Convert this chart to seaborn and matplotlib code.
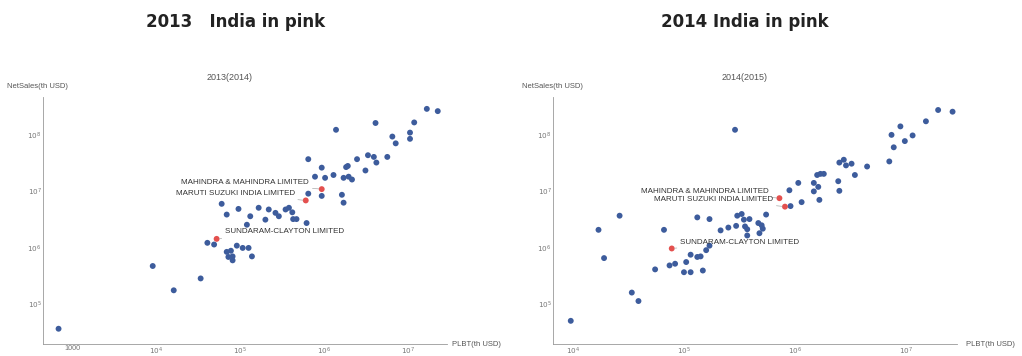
import numpy as np
import pandas as pd
import matplotlib
matplotlib.use("Agg")
import matplotlib.pyplot as plt
import matplotlib.ticker as mticker
import seaborn as sns

# values are log10 of th USD
plbt_2013 = [2.84, 3.96, 4.21, 4.53, 4.61, 4.69, 4.78, 4.84, 4.84, 4.86, 4.89, 4.91, 4.91, 4.96,
             4.98, 5.03, 5.10, 5.14, 5.08, 5.12, 5.22, 5.30, 5.34, 5.42, 5.46, 5.54, 5.58, 5.62,
             5.63, 5.67, 5.79, 5.81, 5.81, 5.97, 5.97, 5.89, 6.01, 6.11, 6.14, 6.21, 6.23, 6.23,
             6.26, 6.28, 6.29, 6.33, 6.39, 6.49, 6.52, 6.59, 6.62, 6.61, 6.75, 6.81, 6.85, 7.02,
             7.02, 7.07, 7.22, 7.35]
sales_2013 = [4.57, 5.68, 5.25, 5.46, 6.09, 6.06, 6.78, 6.59, 5.93, 5.84, 5.95, 5.78, 5.85, 6.04,
              6.69, 6.00, 6.00, 5.85, 6.41, 6.56, 6.71, 6.50, 6.68, 6.62, 6.56, 6.68, 6.71, 6.63,
              6.51, 6.51, 6.44, 6.96, 7.57, 6.92, 7.42, 7.26, 7.24, 7.29, 8.09, 6.94, 6.80, 7.24,
              7.43, 7.45, 7.26, 7.21, 7.57, 7.37, 7.64, 7.61, 7.51, 8.21, 7.61, 7.97, 7.85, 8.04,
              7.93, 8.22, 8.46, 8.42]

plbt_2014 = [3.98, 4.23, 4.28, 4.42, 4.53, 4.59, 4.74, 4.82, 4.87, 4.92, 5.00, 5.02, 5.06, 5.06,
             5.12, 5.15, 5.17, 5.20, 5.23, 5.12, 5.23, 5.46, 5.33, 5.40, 5.47, 5.48, 5.52, 5.54,
             5.55, 5.57, 5.59, 5.57, 5.67, 5.68, 5.70, 5.71, 5.74, 5.96, 5.95, 6.03, 6.06, 6.17,
             6.17, 6.21, 6.22, 6.20, 6.23, 6.26, 6.39, 6.40, 6.40, 6.44, 6.46, 6.51, 6.54, 6.65,
             6.85, 6.87, 6.89, 6.95, 6.99, 7.06, 7.18, 7.29, 7.42]
sales_2014 = [4.71, 6.32, 5.82, 6.57, 5.21, 5.06, 5.62, 6.32, 5.69, 5.72, 5.57, 5.75, 5.88, 5.57,
              5.84, 5.85, 5.60, 5.96, 6.04, 6.54, 6.51, 8.09, 6.31, 6.36, 6.39, 6.57, 6.60, 6.50,
              6.38, 6.22, 6.51, 6.33, 6.44, 6.26, 6.40, 6.34, 6.59, 6.74, 7.02, 7.15, 6.81, 7.15,
              7.00, 7.08, 6.85, 7.29, 7.31, 7.31, 7.18, 7.01, 7.51, 7.56, 7.46, 7.49, 7.29, 7.44,
              7.53, 8.00, 7.78, 8.15, 7.89, 7.99, 8.24, 8.44, 8.41]

india_names = ["MAHINDRA & MAHINDRA LIMITED", "MARUTI SUZUKI INDIA LIMITED", "SUNDARAM-CLAYTON LIMITED"]
india_plbt_2013 = [5.97, 5.78, 4.72]
india_sales_2013 = [7.04, 6.84, 6.16]
india_plbt_2014 = [5.86, 5.91, 4.89]
india_sales_2014 = [6.88, 6.73, 5.99]

BLUE = "#3d5c9c"
PINK = "#e4504e"
GREY = "#777777"


def make_df(px, sy, ipx, isy):
    a = pd.DataFrame({"PLBT": np.power(10.0, px), "NetSales": np.power(10.0, sy), "grp": "other"})
    b = pd.DataFrame({"PLBT": np.power(10.0, ipx), "NetSales": np.power(10.0, isy), "grp": "India",
                      "name": india_names})
    return pd.concat([a, b], ignore_index=True)


def fmt_x(v, pos):
    n = int(round(np.log10(v)))
    if n == 3:
        return "1000"
    return r"$10^{%d}$" % n


def fmt_y(v, pos):
    return r"$10^{%d}$" % int(round(np.log10(v)))


sns.set_style("white")
plt.rcParams["font.family"] = ["Liberation Sans", "DejaVu Sans"]
plt.rcParams["mathtext.fontset"] = "dejavusans"

fig = plt.figure(figsize=(10.22, 3.56), dpi=100)
W, H = 1022.0, 356.0

panels = [
    (43, make_df(plbt_2013, sales_2013, india_plbt_2013, india_sales_2013), (2.655, 7.46),
     [(-9, 4.5, "right"), (-8, 5, "right"), (6, 5, "left")]),
    (553, make_df(plbt_2014, sales_2014, india_plbt_2014, india_sales_2014), (3.82, 7.46),
     [(-8, 5, "right"), (-8.5, 5.5, "right"), (6, 4.5, "left")]),
]

for left, df, xl, offs in panels:
    ax = fig.add_axes([left / W, 1 - 344 / H, 404 / W, 247 / H])
    ax.set_xscale("log")
    ax.set_yscale("log")
    sns.scatterplot(data=df, x="PLBT", y="NetSales", hue="grp", palette={"other": BLUE, "India": PINK},
                    s=18, linewidth=0, legend=False, ax=ax, zorder=3)
    ax.set_xlim(10 ** xl[0], 10 ** xl[1])
    ax.set_ylim(10 ** 4.30, 10 ** 8.67)
    ax.set_xlabel("")
    ax.set_ylabel("")
    for s in ["top", "right"]:
        ax.spines[s].set_visible(False)
    for s in ["left", "bottom"]:
        ax.spines[s].set_color("#999999")
        ax.spines[s].set_linewidth(0.6)
    ax.xaxis.set_major_locator(mticker.LogLocator(base=10, numticks=12))
    ax.yaxis.set_major_locator(mticker.LogLocator(base=10, numticks=12))
    ax.xaxis.set_minor_locator(mticker.LogLocator(base=10, subs=np.arange(2, 10), numticks=12))
    ax.yaxis.set_minor_locator(mticker.LogLocator(base=10, subs=np.arange(2, 10), numticks=12))
    ax.xaxis.set_major_formatter(mticker.FuncFormatter(fmt_x))
    ax.yaxis.set_major_formatter(mticker.FuncFormatter(fmt_y))
    ax.xaxis.set_minor_formatter(mticker.NullFormatter())
    ax.yaxis.set_minor_formatter(mticker.NullFormatter())
    ax.tick_params(which="major", direction="in", length=3.5, width=0.6, color="#999999",
                   labelsize=5.2, labelcolor=GREY, pad=1)
    ax.tick_params(which="minor", direction="in", length=1.8, width=0.5, color="#aaaaaa")
    ax.patch.set_alpha(0)

    ind = df[df["grp"] == "India"]
    for (_, r), (dx, dy, ha) in zip(ind.iterrows(), offs):
        ax.annotate(r["name"], xy=(r["PLBT"], r["NetSales"]), xytext=(dx, dy), textcoords="offset points",
                    ha=ha, va="center", fontsize=5.8, color="#333333",
                    arrowprops=dict(arrowstyle="-", color="#aaaaaa", lw=0.5, shrinkA=0, shrinkB=2))

# headings and axis names
fig.text(236 / W, 1 - 22 / H, "2013   India in pink", ha="center", va="center", fontsize=12,
         fontweight="bold", color="#222222", family=["DejaVu Sans"])
fig.text(745 / W, 1 - 22 / H, "2014 India in pink", ha="center", va="center", fontsize=12,
         fontweight="bold", color="#222222", family=["DejaVu Sans"])
fig.text(230 / W, 1 - 77 / H, "2013(2014)", ha="center", va="center", fontsize=6.5, color="#555555")
fig.text(745 / W, 1 - 77 / H, "2014(2015)", ha="center", va="center", fontsize=6.5, color="#555555")
fig.text(7 / W, 1 - 87 / H, "NetSales(th USD)", ha="left", va="center", fontsize=5.5, color="#555555")
fig.text(522 / W, 1 - 86 / H, "NetSales(th USD)", ha="left", va="center", fontsize=5.5, color="#555555")
fig.text(452 / W, 1 - 345 / H, "PLBT(th USD)", ha="left", va="center", fontsize=5.5, color="#555555")
fig.text(966 / W, 1 - 345 / H, "PLBT(th USD)", ha="left", va="center", fontsize=5.5, color="#555555")

fig.savefig("out.png", dpi=100)
